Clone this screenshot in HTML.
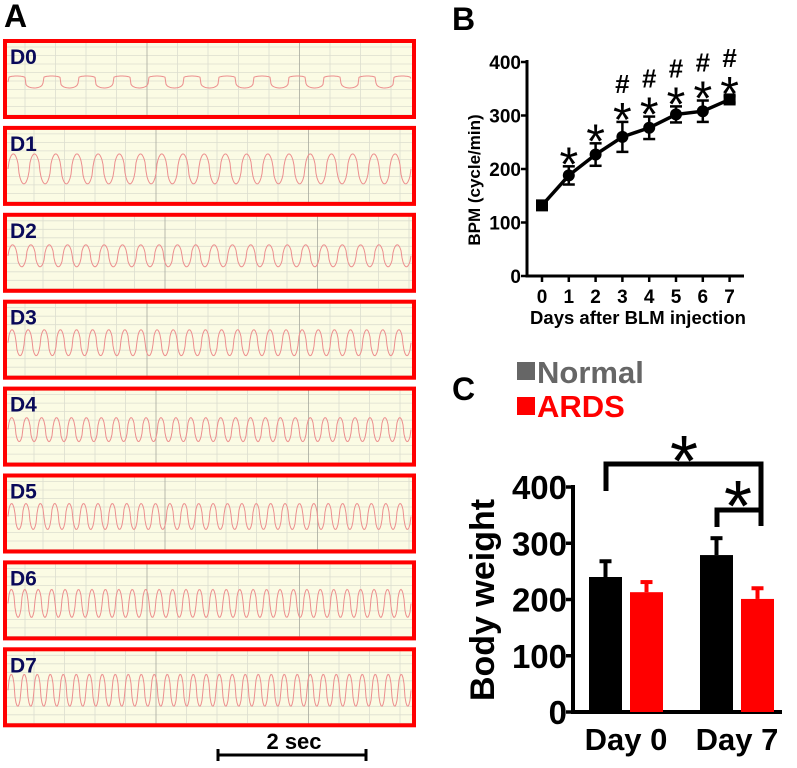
<!DOCTYPE html>
<html><head><meta charset="utf-8"><style>
body{margin:0;background:#fff;width:797px;height:768px;overflow:hidden;font-family:"Liberation Sans",sans-serif}
svg{position:absolute;left:0;top:0}
</style></head><body>
<svg id="fig" width="797" height="768" viewBox="0 0 797 768" xmlns="http://www.w3.org/2000/svg" font-family="Liberation Sans, sans-serif" font-weight="bold">
<text x="4" y="27" font-size="32" fill="#000">A</text>
<text x="452" y="30" font-size="32" fill="#000">B</text>
<text x="452" y="400" font-size="32" fill="#000">C</text>
<g id="panelA"></g>
<g>
<line x1="218" y1="755" x2="366" y2="755" stroke="#000" stroke-width="3"/>
<line x1="218" y1="749" x2="218" y2="761" stroke="#000" stroke-width="3"/>
<line x1="366" y1="749" x2="366" y2="761" stroke="#000" stroke-width="3"/>
<text x="294" y="749" font-size="22" text-anchor="middle">2 sec</text>
</g>
<g id="panelB"></g>
<g id="panelC"></g>
</svg>
<script>
// Panel A
const traceLabels=['D0','D1','D2','D3','D4','D5','D6','D7'];
const traceCycles=[11.5,19,22,25,27,28,30,31];
const traceAmps=[6,15,11,13,12,13,14,16];
// Panel B
const bDays=[0,1,2,3,4,5,6,7];
const bBpm=[132,188,227,260,277,302,308,330];
const bErr=[4,17,21,28,21,15,20,6];
const bStars=['','*','*','*','*','*','*','*'];
const bHash=['','','','#','#','#','#','#'];
const bYTicks=[0,100,200,300,400];
// Panel C
const cGroups=['Day 0','Day 7'];
const cNormal=[240,279];
const cNormalErr=[28,30];
const cArds=[213,201];
const cArdsErr=[18,19];
const cYTicks=[0,100,200,300,400];

const NS='http://www.w3.org/2000/svg';
function mk(tag,attrs,parent){const e=document.createElementNS(NS,tag);for(const k in attrs)e.setAttribute(k,attrs[k]);parent.appendChild(e);return e;}

// ---- Panel A
const A=document.getElementById('panelA');
traceLabels.forEach((lab,i)=>{
  const top=39+i*86.9,h=80,x0=3,w=413;
  const g=mk('g',{},A);
  
  
  mk('rect',{x:x0+2,y:top+2,width:w-4,height:h-4,fill:'#fbfbe4'},g);
  for(let yy=top+8;yy<top+h-3;yy+=8.5)mk('line',{x1:x0+3,x2:x0+w-3,y1:yy,y2:yy,stroke:'#dcdecf','stroke-width':0.8},g);
  for(let xx=x0+22+(i%3)*9;xx<x0+w-3;xx+=30.5)mk('line',{x1:xx,x2:xx,y1:top+3,y2:top+h-3,stroke:(Math.round((xx-x0)/30.5)%5==0)?'#a8aa9e':'#dcdecf','stroke-width':0.8},g);
  const cy=top+43,amp=traceAmps[i],cyc=traceCycles[i];
  let d='';
  for(let px=0;px<=w-10;px++){
    const ph=(px/(w-10))*cyc*2*Math.PI;
    let v=Math.sin(ph);
    v=Math.sign(v)*Math.pow(Math.abs(v),i==0?0.35:0.6);
    if(i==0&&v>0)v=0.6+0.4*v;
    d+=(px?'L':'M')+(x0+5+px)+' '+(cy-amp*v).toFixed(1);
  }
  mk('path',{d:d,fill:'none',stroke:'#ec8e8e','stroke-width':1},g);
  mk('rect',{x:x0+2,y:top+2,width:w-4,height:h-4,fill:'none',stroke:'#ff0000','stroke-width':4},g);
  const t=mk('text',{x:x0+7,y:top+25,'font-size':21,fill:'#0a0a5a'},g);t.textContent=lab;
});

// ---- Panel B
const B=document.getElementById('panelB');
const bx=d=>542+d*26.8, by=v=>276-v*214/400;
mk('line',{x1:527,y1:60,x2:527,y2:277.5,stroke:'#000','stroke-width':3},B);
mk('line',{x1:527,y1:276,x2:744,y2:276,stroke:'#000','stroke-width':3},B);
bYTicks.forEach(t=>{
  mk('line',{x1:521,x2:527,y1:by(t),y2:by(t),stroke:'#000','stroke-width':2.5},B);
  const tx=mk('text',{x:521,y:by(t)+7,'font-size':19,'text-anchor':'end'},B);tx.textContent=t;
});
bDays.forEach(d=>{
  mk('line',{x1:bx(d),x2:bx(d),y1:276,y2:282,stroke:'#000','stroke-width':2.5},B);
  const tx=mk('text',{x:bx(d),y:303,'font-size':19,'text-anchor':'middle'},B);tx.textContent=d;
});
const bt=mk('text',{x:638,y:324,'font-size':18.5,'text-anchor':'middle'},B);bt.textContent='Days after BLM injection';
const yt=mk('text',{x:0,y:0,'font-size':17,'text-anchor':'middle',transform:'translate(480,180) rotate(-90)'},B);yt.textContent='BPM (cycle/min)';
let lp='';bDays.forEach((d,i)=>{lp+=(i?'L':'M')+bx(d)+' '+by(bBpm[i]);});
mk('path',{d:lp,fill:'none',stroke:'#000','stroke-width':3.5},B);
bDays.forEach((d,i)=>{
  const x=bx(d),y=by(bBpm[i]),e=bErr[i];
  mk('line',{x1:x,x2:x,y1:by(bBpm[i]+e),y2:by(bBpm[i]-e),stroke:'#000','stroke-width':2.5},B);
  mk('line',{x1:x-6,x2:x+6,y1:by(bBpm[i]+e),y2:by(bBpm[i]+e),stroke:'#000','stroke-width':2.5},B);
  mk('line',{x1:x-6,x2:x+6,y1:by(bBpm[i]-e),y2:by(bBpm[i]-e),stroke:'#000','stroke-width':2.5},B);
  if(i==0||i==7)mk('rect',{x:x-6,y:y-6,width:12,height:12,fill:'#000'},B);
  else mk('circle',{cx:x,cy:y,r:6,fill:'#000'},B);
  const top=by(bBpm[i]+e);
  const sc=top-13;
  if(bStars[i]){const s=mk('text',{x:x,y:sc+27,'font-size':48,'font-weight':'normal','text-anchor':'middle'},B);s.textContent=bStars[i];}
  if(bHash[i]){const s=mk('text',{x:x,y:sc-25+9,'font-size':26,'text-anchor':'middle'},B);s.textContent=bHash[i];}
});

// ---- Panel C
const C=document.getElementById('panelC');
const cy0=712, cyv=v=>cy0-v*225/400;
const cgx=[589,700], bw=33, gap=41;
mk('rect',{x:517,y:362,width:18,height:18,fill:'#666'},C);
const ln=mk('text',{x:537,y:383,'font-size':31,fill:'#666'},C);ln.textContent='Normal';
mk('rect',{x:517,y:397,width:18,height:18,fill:'#ff0000'},C);
const la=mk('text',{x:537,y:417,'font-size':31,fill:'#ff0000'},C);la.textContent='ARDS';
mk('line',{x1:573,y1:485,x2:573,y2:713.5,stroke:'#000','stroke-width':4},C);
mk('line',{x1:571,y1:712,x2:782,y2:712,stroke:'#000','stroke-width':4},C);
cYTicks.forEach(t=>{
  mk('line',{x1:566,x2:573,y1:cyv(t),y2:cyv(t),stroke:'#000','stroke-width':3.5},C);
  const tx=mk('text',{x:567,y:cyv(t)+12,'font-size':33,'text-anchor':'end'},C);tx.textContent=t;
});
const cyt=mk('text',{x:0,y:0,'font-size':34,'text-anchor':'middle',transform:'translate(494,600) rotate(-90)'},C);cyt.textContent='Body weight';
cGroups.forEach((g,i)=>{
  [[cNormal,cNormalErr,'#000',0],[cArds,cArdsErr,'#ff0000',gap]].forEach(([vals,errs,col,off])=>{
    const x=cgx[i]+off,v=vals[i],e=errs[i];
    mk('line',{x1:x+bw/2,x2:x+bw/2,y1:cyv(v),y2:cyv(v+e),stroke:col,'stroke-width':4},C);
    mk('line',{x1:x+bw/2-6,x2:x+bw/2+6,y1:cyv(v+e),y2:cyv(v+e),stroke:col,'stroke-width':4},C);
    mk('rect',{x:x,y:cyv(v),width:bw,height:cy0-cyv(v),fill:col},C);
  });
  const tx=mk('text',{x:cgx[i]+37,y:750,'font-size':31,'text-anchor':'middle'},C);tx.textContent=g;
});
mk('path',{d:'M606 491 V464 H761 V526',fill:'none',stroke:'#000','stroke-width':5},C);
mk('path',{d:'M717 527 V510 H761',fill:'none',stroke:'#000','stroke-width':5},C);
const s1=mk('text',{x:684,y:486,'font-size':72,'font-weight':'normal','text-anchor':'middle'},C);s1.textContent='*';
const s2=mk('text',{x:738,y:531,'font-size':72,'font-weight':'normal','text-anchor':'middle'},C);s2.textContent='*';
</script>
</body></html>
